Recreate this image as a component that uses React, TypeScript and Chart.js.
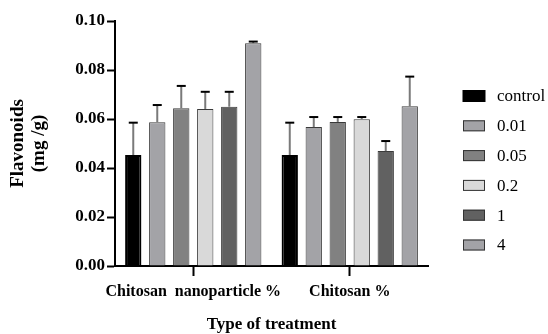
import React, { useEffect, useRef } from "react";
import { Chart, registerables } from "chart.js";

Chart.register(...registerables);

const categories = ["Chitosan  nanoparticle %", "Chitosan %"];
const seriesNames = ["control", "0.01", "0.05", "0.2", "1", "4"];
const control = [0.0453, 0.0453];
const c001 = [0.0587, 0.0567];
const c005 = [0.0644, 0.0588];
const c02 = [0.0641, 0.0599];
const c1 = [0.065, 0.0469];
const c4 = [0.0909, 0.0652];
const errControl = [0.0132, 0.0132];
const err001 = [0.007, 0.0041];
const err005 = [0.0091, 0.002];
const err02 = [0.007, 0.0009];
const err1 = [0.0061, 0.0041];
const err4 = [0.0007, 0.0121];
const yTicks = [0, 0.02, 0.04, 0.06, 0.08, 0.1];

const fills = ["#000000", "#a3a3a7", "#818181", "#d9d9d9", "#616161", "#a3a3a7"];
const FONT = '"Liberation Serif", "Times New Roman", serif';

const errorBarPlugin = {
  id: "errorBars",
  afterDatasetsDraw(chart: any) {
    const ctx = chart.ctx;
    const yScale = chart.scales.y;
    chart.data.datasets.forEach((ds: any, di: number) => {
      const meta = chart.getDatasetMeta(di);
      meta.data.forEach((bar: any, i: number) => {
        const v = ds.data[i];
        const e = ds.errors[i];
        const yTop = yScale.getPixelForValue(v + e);
        const yBar = yScale.getPixelForValue(v);
        ctx.save();
        ctx.strokeStyle = "#7a7a7a";
        ctx.lineWidth = 2;
        ctx.beginPath();
        ctx.moveTo(bar.x, yBar);
        ctx.lineTo(bar.x, yTop);
        ctx.stroke();
        ctx.strokeStyle = "#000";
        ctx.beginPath();
        ctx.moveTo(bar.x - 4.5, yTop);
        ctx.lineTo(bar.x + 4.5, yTop);
        ctx.stroke();
        ctx.restore();
      });
    });
  },
};

const legendPlugin = {
  id: "customLegend",
  afterDraw(chart: any) {
    const ctx = chart.ctx;
    ctx.save();
    chart.data.datasets.forEach((ds: any, i: number) => {
      const cy = 96 + i * 29.8;
      ctx.fillStyle = ds.backgroundColor;
      ctx.fillRect(463, cy - 5.5, 22, 11);
      ctx.strokeStyle = i === 0 ? "#000" : "#333";
      ctx.lineWidth = i === 0 ? 2 : 1;
      ctx.strokeRect(463.5, cy - 5, 21, 10);
      ctx.fillStyle = "#000";
      ctx.font = `17px ${FONT}`;
      ctx.textBaseline = "middle";
      ctx.textAlign = "left";
      ctx.fillText(ds.label, 497, cy + 1);
    });
    ctx.restore();
  },
};

export default function App() {
  const ref = useRef<HTMLCanvasElement>(null);
  useEffect(() => {
    document.body.style.margin = "0";
    const values = [control, c001, c005, c02, c1, c4];
    const errs = [errControl, err001, err005, err02, err1, err4];
    const chart = new Chart(ref.current!, {
      type: "bar",
      data: {
        labels: categories,
        datasets: seriesNames.map((name, i) => ({
          label: name,
          data: values[i],
          errors: errs[i],
          backgroundColor: fills[i],
          borderColor: i === 0 ? "#000" : "#3a3a3a",
          borderWidth: i === 0 ? 2 : 1,
          categoryPercentage: 0.92,
          barPercentage: 0.68,
        })) as any,
      },
      options: {
        responsive: false,
        animation: false,
        layout: { padding: { left: 0, right: 120, top: 21, bottom: 0 } },
        plugins: { legend: { display: false }, tooltip: { enabled: false } },
        scales: {
          x: {
            afterFit(scale: any) {
              scale.height = 68;
            },
            grid: {
              display: true,
              offset: false,
              drawOnChartArea: false,
              drawTicks: true,
              tickLength: 10,
              tickWidth: 2,
              tickColor: "#000",
            },
            border: { display: true, color: "#000", width: 2 },
            ticks: {
              padding: 6,
              color: "#000",
              autoSkip: false,
              font: { family: FONT, size: 16, weight: "bold" },
              maxRotation: 0,
            },
            title: {
              display: true,
              text: "Type of treatment",
              color: "#000",
              font: { family: FONT, size: 17, weight: "bold", lineHeight: 1.1 },
              padding: 0,
            },
          },
          y: {
            min: 0,
            max: 0.1,
            afterFit(scale: any) {
              scale.width = 115;
            },
            afterBuildTicks(scale: any) {
              scale.ticks = yTicks.map((v) => ({ value: v }));
            },
            grid: {
              display: true,
              drawOnChartArea: false,
              tickLength: 8,
              tickWidth: 2,
              tickColor: "#000",
            },
            border: { display: true, color: "#000", width: 2 },
            ticks: {
              padding: 2,
              color: "#000",
              font: { family: FONT, size: 17, weight: "bold" },
              callback: (v: any) => Number(v).toFixed(2),
            },
            title: {
              display: true,
              text: ["Flavonoids", "(mg /g)"],
              color: "#000",
              font: { family: FONT, size: 19, weight: "bold", lineHeight: 1.08 },
              padding: { top: 8, bottom: 0 },
            },
          },
        },
      },
      plugins: [errorBarPlugin, legendPlugin],
    });
    return () => chart.destroy();
  }, []);
  return <canvas ref={ref} width={548} height={334} style={{ display: "block" }} />;
}
